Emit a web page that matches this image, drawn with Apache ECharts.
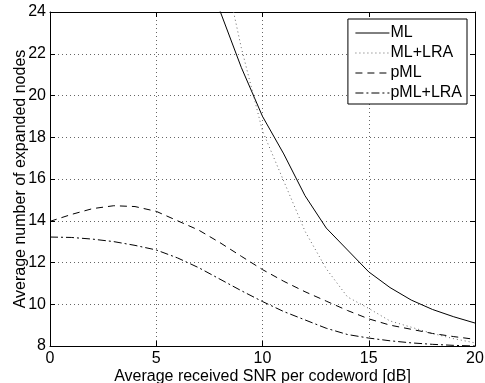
<!DOCTYPE html>
<html><head><meta charset="utf-8">
<script src="https://cdn.jsdelivr.net/npm/echarts@6/dist/echarts.min.js"></script>
<style>html,body{margin:0;padding:0;background:#fff}#c{width:485px;height:383px}</style>
</head><body><div id="c"></div>
<script>
// SNR values [dB]
var snrML = [8, 9, 10, 11, 12, 13, 14, 15, 16, 17, 18, 19, 20];
var valML = [24.05, 21.35, 19.0, 17.2, 15.2, 13.65, 12.6, 11.55, 10.8, 10.2, 9.75, 9.4, 9.1];
var snrMLLRA = [8, 9, 10, 11, 12, 13, 14, 15, 16, 17, 18, 19, 20];
var valMLLRA = [27.0, 22.3, 18.3, 15.9, 13.5, 11.7, 10.35, 9.8, 9.2, 8.9, 8.6, 8.35, 8.15];
var snrAll = [0, 1, 2, 3, 4, 5, 6, 7, 8, 9, 10, 11, 12, 13, 14, 15, 16, 17, 18, 19, 20];
var valPML = [13.97, 14.3, 14.58, 14.72, 14.68, 14.45, 14.0, 13.55, 12.95, 12.3, 11.66, 11.1, 10.6, 10.15, 9.7, 9.3, 9.0, 8.8, 8.6, 8.45, 8.32];
var valPMLLRA = [13.22, 13.2, 13.12, 13.0, 12.82, 12.6, 12.22, 11.75, 11.2, 10.65, 10.13, 9.65, 9.25, 8.85, 8.55, 8.38, 8.25, 8.15, 8.08, 8.03, 8.0];
var xTicks = [0, 5, 10, 15, 20];
var yTicks = [8, 10, 12, 14, 16, 18, 20, 22, 24];
var seriesNames = ['ML', 'ML+LRA', 'pML', 'pML+LRA'];
var xName = 'Average received SNR per codeword [dB]';
var yName = 'Average number of expanded nodes';

function pairs(xs, ys) { return xs.map(function (x, i) { return [x, ys[i]]; }); }

var FONT = 'Liberation Sans, Arial, Helvetica, sans-serif';
var FS = 16;
var chart = echarts.init(document.getElementById('c'), null, {renderer: 'canvas'});
var gridLine = {show: true, lineStyle: {color: '#666', width: 1, type: [1, 3]}};
var labelStyle = {color: '#000', fontSize: FS, fontFamily: FONT};
chart.setOption({
  animation: false,
  backgroundColor: '#fff',
  grid: {left: 50, right: 10, top: 12, bottom: 37, containLabel: false, outerBoundsMode: 'none'},
  legend: {
    orient: 'vertical', right: 18, top: 19,
    data: seriesNames,
    itemWidth: 34, itemHeight: 14, itemGap: 4,
    padding: [6, 5, 3, 7],
    borderColor: '#000', borderWidth: 1, backgroundColor: '#fff',
    itemStyle: {opacity: 0},
    lineStyle: {width: 1},
    textStyle: {color: '#000', fontSize: FS, fontFamily: FONT, lineHeight: 15, padding: [0, 0, 0, -4]}
  },
  xAxis: [{
    type: 'value', min: xTicks[0], max: xTicks[xTicks.length - 1], interval: 5,
    position: 'bottom',
    name: xName, nameLocation: 'middle', nameGap: 23, nameMoveOverlap: false,
    nameTextStyle: labelStyle,
    axisLine: {show: true, onZero: false, lineStyle: {color: '#000', width: 1}},
    axisTick: {show: true, inside: true, length: 5, lineStyle: {color: '#000'}},
    axisLabel: {show: true, color: '#000', fontSize: FS, fontFamily: FONT, margin: 5},
    splitLine: gridLine
  }, {
    type: 'value', min: xTicks[0], max: xTicks[xTicks.length - 1], interval: 5,
    position: 'top',
    axisLine: {show: true, onZero: false, lineStyle: {color: '#000', width: 1}},
    axisTick: {show: true, inside: true, length: 5, lineStyle: {color: '#000'}},
    axisLabel: {show: false}, splitLine: {show: false}
  }],
  yAxis: [{
    type: 'value', min: yTicks[0], max: yTicks[yTicks.length - 1], interval: 2,
    position: 'left',
    name: yName, nameLocation: 'middle', nameGap: 21, nameMoveOverlap: false,
    nameTextStyle: labelStyle,
    axisLine: {show: true, onZero: false, lineStyle: {color: '#000', width: 1}},
    axisTick: {show: true, inside: true, length: 5, lineStyle: {color: '#000'}},
    axisLabel: {show: true, color: '#000', fontSize: FS, fontFamily: FONT, margin: 4},
    splitLine: gridLine
  }, {
    type: 'value', min: yTicks[0], max: yTicks[yTicks.length - 1], interval: 2,
    position: 'right',
    axisLine: {show: true, onZero: false, lineStyle: {color: '#000', width: 1}},
    axisTick: {show: true, inside: true, length: 5, lineStyle: {color: '#000'}},
    axisLabel: {show: false}, splitLine: {show: false}
  }],
  series: [{
    name: seriesNames[0], type: 'line', symbol: 'none', clip: true,
    data: pairs(snrML, valML),
    lineStyle: {color: '#000', width: 1, type: 'solid'}, itemStyle: {color: '#000'}
  }, {
    name: seriesNames[1], type: 'line', symbol: 'none', clip: true,
    data: pairs(snrMLLRA, valMLLRA),
    lineStyle: {color: '#666', width: 1, type: [1, 3]}, itemStyle: {color: '#666'}
  }, {
    name: seriesNames[2], type: 'line', symbol: 'none', clip: true,
    data: pairs(snrAll, valPML),
    lineStyle: {color: '#000', width: 1, type: [7, 5]}, itemStyle: {color: '#000'}
  }, {
    name: seriesNames[3], type: 'line', symbol: 'none', clip: true,
    data: pairs(snrAll, valPMLLRA),
    lineStyle: {color: '#000', width: 1, type: [8, 3, 2, 3]}, itemStyle: {color: '#000'}
  }]
});
</script></body></html>
